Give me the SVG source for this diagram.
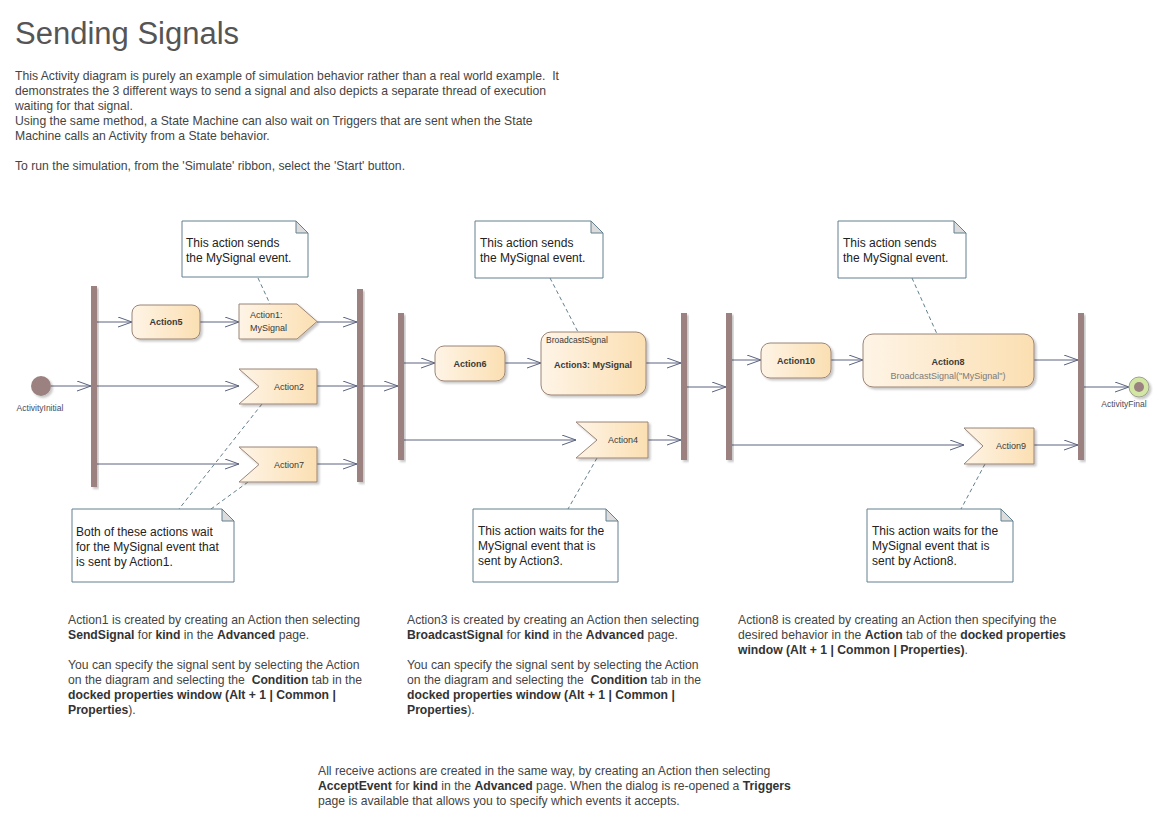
<svg xmlns="http://www.w3.org/2000/svg" width="1159" height="823" viewBox="0 0 1159 823">
<defs>
<linearGradient id="gAct" x1="0" y1="0" x2="1" y2="0">
<stop offset="0" stop-color="#fef4e6"/>
<stop offset="1" stop-color="#fbdfb2"/>
</linearGradient>
<filter id="sh" x="-10%" y="-10%" width="130%" height="130%">
<feDropShadow dx="2" dy="2" stdDeviation="1.2" flood-color="#000" flood-opacity="0.22"/>
</filter>
<marker id="arr" markerUnits="userSpaceOnUse" markerWidth="16" markerHeight="12" refX="15" refY="5.5" orient="auto">
<path d="M1,0.5 L15,5.5 L1,10.5" fill="none" stroke="#5a6380" stroke-width="1"/>
</marker>
</defs>
<style>
text{font-family:"Liberation Sans",Arial,sans-serif;}
.title{font-size:31px;fill:#555555;}
.p{font-size:12.2px;fill:#444444;white-space:pre;}
.p tspan.b{font-weight:bold;fill:#333333;}
.nt{font-size:12px;fill:#222222;}
.act{fill:url(#gAct);stroke:#9a8476;stroke-width:1;filter:url(#sh);}
.lb{font-size:9px;font-weight:bold;fill:#3a3a3a;text-anchor:middle;}
.ln{font-size:9px;fill:#3a3a3a;}
.lg{font-size:9px;fill:#7a7a7a;text-anchor:middle;}
.bar{fill:#9b8280;filter:url(#sh);}
.note{fill:#ffffff;stroke:#62808f;stroke-width:1;}
.fold{fill:#dcdcdc;stroke:#62808f;stroke-width:1;}
.dash{stroke:#62808f;stroke-width:1;stroke-dasharray:4,3;fill:none;}
.con line{stroke:#5a6380;stroke-width:1;marker-end:url(#arr);}
.small{font-size:8.5px;fill:#4a4a5a;text-anchor:middle;}
</style>
<rect x="0" y="0" width="1159" height="823" fill="#ffffff"/>

<text class="title" x="15" y="44">Sending Signals</text>
<g id="intro">
<text class="p" x="15" y="80">This Activity diagram is purely an example of simulation behavior rather than a real world example.  It</text>
<text class="p" x="15" y="95">demonstrates the 3 different ways to send a signal and also depicts a separate thread of execution</text>
<text class="p" x="15" y="110">waiting for that signal.</text>
<text class="p" x="15" y="125">Using the same method, a State Machine can also wait on Triggers that are sent when the State</text>
<text class="p" x="15" y="140">Machine calls an Activity from a State behavior.</text>
<text class="p" x="15" y="170">To run the simulation, from the 'Simulate' ribbon, select the 'Start' button.</text>
</g>

<!-- connectors -->
<g id="connectors" class="con">
<line x1="51" y1="386" x2="91" y2="386"/>
<line x1="97" y1="322" x2="132" y2="322"/>
<line x1="200" y1="322" x2="239" y2="322"/>
<line x1="317" y1="322" x2="357" y2="322"/>
<line x1="97" y1="386" x2="239" y2="386"/>
<line x1="317" y1="386" x2="357" y2="386"/>
<line x1="97" y1="464" x2="239" y2="464"/>
<line x1="317" y1="464" x2="357" y2="464"/>
<line x1="363" y1="386" x2="398" y2="386"/>
<line x1="404" y1="363" x2="435" y2="363"/>
<line x1="505" y1="363" x2="541" y2="363"/>
<line x1="646" y1="363" x2="681" y2="363"/>
<line x1="404" y1="440" x2="576" y2="440"/>
<line x1="648" y1="440" x2="681" y2="440"/>
<line x1="687" y1="387" x2="726" y2="387"/>
<line x1="732" y1="360" x2="761" y2="360"/>
<line x1="831" y1="360" x2="863" y2="360"/>
<line x1="1034" y1="360" x2="1078" y2="360"/>
<line x1="732" y1="445" x2="964" y2="445"/>
<line x1="1034" y1="445" x2="1078" y2="445"/>
<line x1="1084" y1="387" x2="1129" y2="387"/>
</g>

<g id="noteLinks">
<line class="dash" x1="258" y1="278" x2="270" y2="304"/>
<line class="dash" x1="262" y1="404" x2="179" y2="509"/>
<line class="dash" x1="248" y1="482" x2="211" y2="509"/>
<line class="dash" x1="550" y1="278" x2="578" y2="332"/>
<line class="dash" x1="597" y1="458" x2="568" y2="509"/>
<line class="dash" x1="912" y1="278" x2="937" y2="334"/>
<line class="dash" x1="985" y1="464" x2="961" y2="509"/>
</g>

<!-- initial -->
<g id="ActivityInitial">
<circle cx="41" cy="386" r="10" fill="#9b8280" filter="url(#sh)"/>
<text class="small" x="40" y="411">ActivityInitial</text>
</g>

<!-- bars -->
<g id="Fork1"><rect class="bar" x="91" y="286" width="6" height="201"/></g>
<g id="Join1"><rect class="bar" x="357" y="289" width="6" height="193"/></g>
<g id="Fork2"><rect class="bar" x="398" y="313" width="6" height="147"/></g>
<g id="Join2"><rect class="bar" x="681" y="313" width="6" height="147"/></g>
<g id="Fork3"><rect class="bar" x="726" y="313" width="6" height="147"/></g>
<g id="Join3"><rect class="bar" x="1078" y="313" width="6" height="147"/></g>

<!-- section 1 -->
<g id="Action5">
<rect class="act" x="132" y="305" width="68" height="34" rx="8"/>
<text class="lb" x="166" y="325">Action5</text>
</g>
<g id="Action1">
<path class="act" d="M239,304 H297 L317,321.5 L297,339 H239 Z"/>
<text class="ln" x="250" y="318">Action1:</text>
<text class="ln" x="250" y="331">MySignal</text>
</g>
<g id="Action2">
<path class="act" d="M239,369 H317 V404 H239 L259,386.5 Z"/>
<text class="ln" x="274" y="390">Action2</text>
</g>
<g id="Action7">
<path class="act" d="M239,447 H317 V482 H239 L259,464.5 Z"/>
<text class="ln" x="274" y="468">Action7</text>
</g>

<!-- section 2 -->
<g id="Action6">
<rect class="act" x="435" y="346" width="70" height="35" rx="9"/>
<text class="lb" x="470" y="367">Action6</text>
</g>
<g id="Action3">
<rect class="act" x="541" y="332" width="105" height="63" rx="10"/>
<text class="ln" x="546" y="343" style="font-size:8.5px">BroadcastSignal</text>
<text class="lb" x="593" y="368">Action3: MySignal</text>
</g>
<g id="Action4">
<path class="act" d="M576,422 H648 V458 H576 L597,440 Z"/>
<text class="ln" x="608" y="443">Action4</text>
</g>

<!-- section 3 -->
<g id="Action10">
<rect class="act" x="761" y="343" width="70" height="35" rx="9"/>
<text class="lb" x="796" y="364">Action10</text>
</g>
<g id="Action8">
<rect class="act" x="863" y="334" width="171" height="53" rx="10"/>
<text class="lb" x="948" y="365">Action8</text>
<text class="lg" x="948" y="379">BroadcastSignal("MySignal")</text>
</g>
<g id="Action9">
<path class="act" d="M964,428 H1034 V464 H964 L983,446 Z"/>
<text class="ln" x="996" y="449">Action9</text>
</g>

<!-- final -->
<g id="ActivityFinal">
<circle cx="1139" cy="387" r="10" fill="#d2e7a4" stroke="#a0a090" stroke-width="1" filter="url(#sh)"/>
<circle cx="1139" cy="387" r="5" fill="#9b8280"/>
<text class="small" x="1124" y="407">ActivityFinal</text>
</g>

<!-- notes -->
<g id="Note1">
<path class="note" d="M182,221 H296 L308,233 V277 H182 Z"/>
<path class="fold" d="M296,221 V233 H308 Z"/>
<text class="nt" x="186" y="247">This action sends</text>
<text class="nt" x="186" y="262">the MySignal event.</text>
</g>
<g id="Note2">
<path class="note" d="M72,509 H222 L234,521 V582 H72 Z"/>
<path class="fold" d="M222,509 V521 H234 Z"/>
<text class="nt" x="76" y="536">Both of these actions wait</text>
<text class="nt" x="76" y="551">for the MySignal event that</text>
<text class="nt" x="76" y="566">is sent by Action1.</text>
</g>
<g id="Note3">
<path class="note" d="M475,221 H591 L603,233 V278 H475 Z"/>
<path class="fold" d="M591,221 V233 H603 Z"/>
<text class="nt" x="480" y="247">This action sends</text>
<text class="nt" x="480" y="262">the MySignal event.</text>
</g>
<g id="Note4">
<path class="note" d="M473,509 H606 L618,521 V582 H473 Z"/>
<path class="fold" d="M606,509 V521 H618 Z"/>
<text class="nt" x="478" y="535">This action waits for the</text>
<text class="nt" x="478" y="550">MySignal event that is</text>
<text class="nt" x="478" y="565">sent by Action3.</text>
</g>
<g id="Note5">
<path class="note" d="M838,221 H954 L966,233 V278 H838 Z"/>
<path class="fold" d="M954,221 V233 H966 Z"/>
<text class="nt" x="843" y="247">This action sends</text>
<text class="nt" x="843" y="262">the MySignal event.</text>
</g>
<g id="Note6">
<path class="note" d="M867,509 H1001 L1013,521 V582 H867 Z"/>
<path class="fold" d="M1001,509 V521 H1013 Z"/>
<text class="nt" x="872" y="535">This action waits for the</text>
<text class="nt" x="872" y="550">MySignal event that is</text>
<text class="nt" x="872" y="565">sent by Action8.</text>
</g>

<!-- bottom text -->
<g id="Text1">
<text class="p" x="68" y="624">Action1 is created by creating an Action then selecting</text>
<text class="p" x="68" y="639"><tspan class="b">SendSignal</tspan> for <tspan class="b">kind</tspan> in the <tspan class="b">Advanced</tspan> page.</text>
<text class="p" x="68" y="669">You can specify the signal sent by selecting the Action</text>
<text class="p" x="68" y="684">on the diagram and selecting the  <tspan class="b">Condition</tspan> tab in the</text>
<text class="p" x="68" y="699"><tspan class="b">docked properties window (Alt + 1 | Common |</tspan></text>
<text class="p" x="68" y="714"><tspan class="b">Properties</tspan>).</text>
</g>
<g id="Text2">
<text class="p" x="407" y="624">Action3 is created by creating an Action then selecting</text>
<text class="p" x="407" y="639"><tspan class="b">BroadcastSignal</tspan> for <tspan class="b">kind</tspan> in the <tspan class="b">Advanced</tspan> page.</text>
<text class="p" x="407" y="669">You can specify the signal sent by selecting the Action</text>
<text class="p" x="407" y="684">on the diagram and selecting the  <tspan class="b">Condition</tspan> tab in the</text>
<text class="p" x="407" y="699"><tspan class="b">docked properties window (Alt + 1 | Common |</tspan></text>
<text class="p" x="407" y="714"><tspan class="b">Properties</tspan>).</text>
</g>
<g id="Text3">
<text class="p" x="738" y="624">Action8 is created by creating an Action then specifying the</text>
<text class="p" x="738" y="639">desired behavior in the <tspan class="b">Action</tspan> tab of the <tspan class="b">docked properties</tspan></text>
<text class="p" x="738" y="654"><tspan class="b">window (Alt + 1 | Common | Properties)</tspan>.</text>
</g>
<g id="Text4">
<text class="p" x="318" y="775">All receive actions are created in the same way, by creating an Action then selecting</text>
<text class="p" x="318" y="790"><tspan class="b">AcceptEvent</tspan> for <tspan class="b">kind</tspan> in the <tspan class="b">Advanced</tspan> page. When the dialog is re-opened a <tspan class="b">Triggers</tspan></text>
<text class="p" x="318" y="805">page is available that allows you to specify which events it accepts.</text>
</g>
</svg>
